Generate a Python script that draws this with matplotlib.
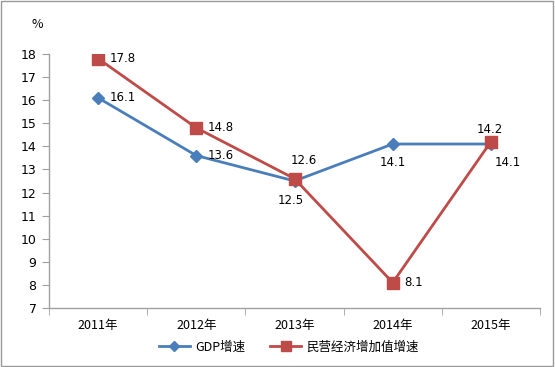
import matplotlib
matplotlib.use("Agg")
import matplotlib.pyplot as plt
from matplotlib.lines import Line2D
from matplotlib.patches import Rectangle

plt.rcParams['font.family'] = ['Noto Sans CJK SC', 'DejaVu Sans']

categories = ["2011年", "2012年", "2013年", "2014年", "2015年"]
gdp = [16.1, 13.6, 12.5, 14.1, 14.1]
private = [17.8, 14.8, 12.6, 8.1, 14.2]
gdp_name = "GDP增速"
private_name = "民营经济增加值增速"
yticks = list(range(7, 19))

blue = "#4A7EBB"
red = "#BE4B48"
gray = "#A0A0A0"

fig = plt.figure(figsize=(5.55, 3.67), dpi=100)
fig.patches.append(Rectangle((0.002, 0.003), 0.995, 0.994, transform=fig.transFigure,
                             fill=False, edgecolor="#999999", linewidth=1.0))
ax = fig.add_axes([0.0883, 0.1608, 0.8847, 0.6922])

x = list(range(len(categories)))
ax.plot(x, gdp, color=blue, linewidth=2.0, marker="D", markersize=6, zorder=3)
ax.plot(x, private, color=red, linewidth=2.0, marker="s", markersize=8.5, zorder=4)

ax.set_xlim(-0.5, len(categories) - 0.5)
ax.set_ylim(7, 18)
ax.set_yticks(yticks)
ax.set_yticklabels([str(v) for v in yticks], fontsize=9, family=['DejaVu Sans'])
ax.set_xticks(x)
ax.set_xticklabels(categories, fontsize=9)
ax.set_xticks([i - 0.5 for i in range(len(categories) + 1)], minor=True)
ax.tick_params(axis='x', which='major', length=0, pad=8)
ax.tick_params(axis='x', which='minor', length=5, color=gray, direction='out')
ax.tick_params(axis='y', length=5, color=gray, direction='out', pad=4)

for s in ["top", "right"]:
    ax.spines[s].set_visible(False)
for s in ["left", "bottom"]:
    ax.spines[s].set_color(gray)
    ax.spines[s].set_linewidth(1.0)

# data labels
gdp_offsets = [(8, 0, 'left', 'center'), (8, 0, 'left', 'center'), (-3, -14, 'center', 'center'),
               (0, -13, 'center', 'center'), (12, -13, 'center', 'center')]
prv_offsets = [(8, 0, 'left', 'center'), (8, 0, 'left', 'center'), (7, 13, 'center', 'center'),
               (8, 0, 'left', 'center'), (-1, 9, 'center', 'center')]
for i, v in enumerate(gdp):
    dx, dy, ha, va = gdp_offsets[i]
    ax.annotate(f"{v}", (i, v), xytext=(dx, dy), textcoords="offset points",
                ha=ha, va=va, fontsize=8.5, family=['DejaVu Sans'])
for i, v in enumerate(private):
    dx, dy, ha, va = prv_offsets[i]
    ax.annotate(f"{v}", (i, v), xytext=(dx, dy), textcoords="offset points",
                ha=ha, va=va, fontsize=8.5, family=['DejaVu Sans'])

fig.text(37 / 555, 1 - 25 / 367, "%", fontsize=9, ha='center', va='center')

handles = [Line2D([], [], color=blue, linewidth=2.0, marker="D", markersize=5),
           Line2D([], [], color=red, linewidth=2.0, marker="s", markersize=7)]
fig.legend(handles, [gdp_name, private_name], loc='center', bbox_to_anchor=(0.52, 1 - 347 / 367),
           ncol=2, frameon=False, fontsize=9, handlelength=2.5, columnspacing=2.0, handletextpad=0.4)

fig.savefig("out.png", dpi=100)
